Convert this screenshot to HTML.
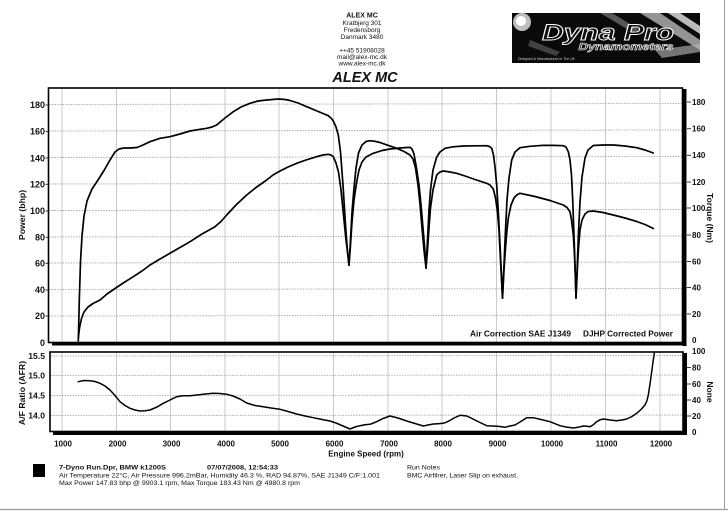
<!DOCTYPE html>
<html>
<head>
<meta charset="utf-8">
<style>
html,body{margin:0;padding:0;background:#fff;}
svg{display:block;font-family:"Liberation Sans",Arial,sans-serif;}
</style>
</head>
<body>
<svg width="728" height="513" viewBox="0 0 728 513" xmlns="http://www.w3.org/2000/svg">
<rect x="0" y="0" width="728" height="513" fill="#fff"/>
<!-- page edges -->
<line x1="724.5" y1="0" x2="724.5" y2="510" stroke="#9a9a9a" stroke-width="1"/>
<line x1="0" y1="509.5" x2="728" y2="509.5" stroke="#9a9a9a" stroke-width="1.2"/>

<!-- header address -->
<g fill="#111" text-anchor="middle">
<text x="362" y="17.5" font-size="7" font-weight="bold">ALEX MC</text>
<text x="362" y="25" font-size="6.5">Kratbjerg 301</text>
<text x="362" y="31.8" font-size="6.5">Fredensborg</text>
<text x="362" y="38.8" font-size="6.5">Danmark 3480</text>
<text x="362" y="52.3" font-size="6.5">++45 51908028</text>
<text x="362" y="59" font-size="6.5">mail@alex-mc.dk</text>
<text x="362" y="65.6" font-size="6.5">www.alex-mc.dk</text>
<text x="365" y="82" font-size="14.5" font-weight="bold" font-style="italic">ALEX MC</text>
</g>

<!-- logo -->
<g>
<rect x="512" y="13" width="188" height="50" fill="#0a0a0a"/>
<circle cx="522" cy="22" r="9" fill="#ddd" opacity="0.85"/>
<circle cx="521" cy="21" r="5" fill="#fff"/>
<polygon points="640,13 660,13 700,40 700,50" fill="#cfcfcf" opacity="0.7"/>
<polygon points="668,13 680,13 700,26 700,34" fill="#e8e8e8" opacity="0.8"/>
<polygon points="655,50 700,44 700,52 662,58" fill="#bdbdbd" opacity="0.6"/>
<polygon points="600,13 612,13 640,30 632,32" fill="#888" opacity="0.6"/>
<polygon points="530,40 560,52 556,56 528,46" fill="#777" opacity="0.5"/>
<text x="608" y="40" font-size="22" font-weight="bold" font-style="italic" text-anchor="middle" fill="#111" stroke="#fff" stroke-width="0.9" textLength="132" lengthAdjust="spacingAndGlyphs">Dyna Pro</text>
<text x="626" y="50" font-size="10.5" font-weight="bold" font-style="italic" text-anchor="middle" fill="#222" stroke="#fff" stroke-width="0.6" textLength="95" lengthAdjust="spacingAndGlyphs">Dynamometers</text>
<text x="518" y="60" font-size="3.5" fill="#ccc">Designed &amp; Manufactured in The UK</text>
</g>

<!-- upper grid -->
<g stroke="#c4c4c4" stroke-width="0.9">
<line x1="62" y1="89" x2="62" y2="342"/>
<line x1="116.5" y1="89" x2="116.5" y2="342"/>
<line x1="170.5" y1="89" x2="170.5" y2="342"/>
<line x1="225" y1="89" x2="225" y2="342"/>
<line x1="279" y1="89" x2="279" y2="342"/>
<line x1="333.5" y1="89" x2="333.5" y2="342"/>
<line x1="388" y1="89" x2="388" y2="342"/>
<line x1="442" y1="89" x2="442" y2="342"/>
<line x1="496.5" y1="89" x2="496.5" y2="342"/>
<line x1="551" y1="89" x2="551" y2="342"/>
<line x1="605.5" y1="89" x2="605.5" y2="342"/>
<line x1="660" y1="89" x2="660" y2="342"/>
</g>
<g stroke="#a8a8a8" stroke-width="0.9" stroke-dasharray="1.5 1.2">
<line x1="49" y1="104.5" x2="682" y2="103.5"/>
<line x1="49" y1="131" x2="682" y2="130"/>
<line x1="49" y1="157.5" x2="682" y2="156.5"/>
<line x1="49" y1="184" x2="682" y2="183"/>
<line x1="49" y1="210.5" x2="682" y2="209.5"/>
<line x1="49" y1="237" x2="682" y2="236"/>
<line x1="49" y1="263" x2="682" y2="262"/>
<line x1="49" y1="289.5" x2="682" y2="288.5"/>
<line x1="49" y1="316" x2="682" y2="315"/>
</g>

<!-- upper frame -->
<rect x="48.5" y="88" width="634" height="254.5" fill="none" stroke="#000" stroke-width="1.6"/>
<rect x="682.5" y="89" width="4" height="257" fill="#000"/>
<rect x="52" y="342" width="634.5" height="3.5" fill="#000"/>

<!-- upper left labels -->
<g font-size="9" font-weight="bold" fill="#111" text-anchor="end">
<text x="45" y="108.2">180</text>
<text x="45" y="134.7">160</text>
<text x="45" y="161.3">140</text>
<text x="45" y="187.5">120</text>
<text x="45" y="214.2">100</text>
<text x="45" y="240.5">80</text>
<text x="45" y="266.5">60</text>
<text x="45" y="293.2">40</text>
<text x="45" y="319.2">20</text>
<text x="45" y="345.8">0</text>
</g>
<g stroke="#222" stroke-width="0.9">
<line x1="45.5" y1="105" x2="48.5" y2="105"/><line x1="45.5" y1="131.5" x2="48.5" y2="131.5"/>
<line x1="45.5" y1="158" x2="48.5" y2="158"/><line x1="45.5" y1="184.3" x2="48.5" y2="184.3"/>
<line x1="45.5" y1="211" x2="48.5" y2="211"/><line x1="45.5" y1="237.3" x2="48.5" y2="237.3"/>
<line x1="45.5" y1="263.3" x2="48.5" y2="263.3"/><line x1="45.5" y1="290" x2="48.5" y2="290"/>
<line x1="45.5" y1="316" x2="48.5" y2="316"/>
</g>
<text transform="translate(25,215) rotate(-90)" font-size="8.7" font-weight="bold" text-anchor="middle" fill="#111">Power (bhp)</text>

<!-- upper right labels -->
<g font-size="8" font-weight="bold" fill="#111">
<text x="692" y="105">180</text>
<text x="692" y="131.6">160</text>
<text x="692" y="158.2">140</text>
<text x="692" y="184.9">120</text>
<text x="692" y="210.9">100</text>
<text x="692" y="237.9">80</text>
<text x="692" y="264.4">60</text>
<text x="692" y="290.4">40</text>
<text x="692" y="316.9">20</text>
<text x="692" y="342.9">0</text>
</g>
<g stroke="#222" stroke-width="0.9">
<line x1="687" y1="102" x2="691" y2="102"/><line x1="687" y1="128.7" x2="691" y2="128.7"/>
<line x1="687" y1="155.3" x2="691" y2="155.3"/><line x1="687" y1="182" x2="691" y2="182"/>
<line x1="687" y1="208" x2="691" y2="208"/><line x1="687" y1="235" x2="691" y2="235"/>
<line x1="687" y1="261.5" x2="691" y2="261.5"/><line x1="687" y1="287.5" x2="691" y2="287.5"/>
<line x1="687" y1="314" x2="691" y2="314"/>
</g>
<text transform="translate(707,218) rotate(90)" font-size="8.5" font-weight="bold" text-anchor="middle" fill="#111">Torque (Nm)</text>

<!-- legend in upper plot -->
<text x="470" y="336.5" font-size="8.3" font-weight="bold" fill="#111" textLength="101" lengthAdjust="spacingAndGlyphs">Air Correction SAE J1349</text>
<text x="583" y="336.5" font-size="8.3" font-weight="bold" fill="#111" textLength="90" lengthAdjust="spacingAndGlyphs">DJHP Corrected Power</text>

<!-- upper curves -->
<g fill="none" stroke="#000" stroke-width="1.7" stroke-linejoin="round" stroke-linecap="round">
<!-- seg1 upper (torque) -->
<polyline points="78.3,341 79.3,300 80.5,262 82,236 84,216 87,201 92,189 98,180 104,170.5 110,160 115,152 119,149 124,148 130,148 137,147.5 143,145 150,141.7 160,138.3 170,136.7 180,134 190,131 200,129.3 206.7,128.3 212,127 216.7,125 225,118 233.3,111.7 241,107 250,103.3 258,101 266.7,100 278.3,99 285,99.5 290,100.5 298,103 306.7,106.7 317,111 328.3,115.7 331,118 333.3,121 336,127 338.3,135 340.5,152 343,185 345.5,225 347.5,252 349,265"/>
<!-- seg1 lower (power) -->
<polyline points="78.3,338 79.5,328 81.5,318.5 84,312 88,307 93,303.5 100,300 107,294 115,288.5 124,282.5 133.3,276.7 142,271 150,265 160,259 170,253.3 180,247.5 190,241.7 202,234 215,226.7 221,221.5 226.7,215 236,205 246.7,195 256,187.5 266.7,180 273,175 280,171 288,167 296.7,163.3 306,160 316.7,156.7 323,155 328.3,154.3 331,155 333.3,156.7 336,163 338.5,172 341,190 343.5,215 346,240 348.3,258 349,265"/>
<!-- seg2 -->
<polyline points="349,265 350.5,240 352,212 354,188 356,168 358.5,153 362,145 366,141.5 370,140.7 375,141.3 380,142.5 388,145.3 396.7,148.3 404,151.5 410,155 413,159 415.5,168 418,185 420,204 422,228 424,250 426,268"/>
<polyline points="349,265 350.5,245 352,222 354,200 356.7,182 359,170 362,162 366,157 373.3,153.3 382,150.5 390,149 400,148 407,147.5 410,147.3 412,149 414,154 416.5,168 419,185 421,205 423,228 425,252 426,268"/>
<!-- seg3 -->
<polyline points="426,268 427.5,240 429,210 430.5,190 433,170 436.7,157 440,152 445,148.3 453,146.8 463.3,146 475,145.8 486.7,145.7 489.5,146.5 491.7,148.3 493.5,155 495,167 496.7,185 498.5,215 500.5,255 502.5,298"/>
<polyline points="426,268 427.5,250 429,228 430.5,208 433,190 436.7,175 440,172 443.3,171 450,172 456.7,173.3 465,176 475,179.5 486.7,183.3 490,185 493.3,189 495.5,198 497.5,212 499,230 500.5,260 502.5,298"/>
<!-- seg4 -->
<polyline points="502.5,298 504,265 505.5,230 507,200 509,178 511.7,160 515,152 520,147.7 530,146.3 543.3,145.3 553,145.4 563.3,145.7 566,147 568.3,151.7 570,160 571.5,175 572.7,200 574,235 575,265 576,298"/>
<polyline points="502.5,298 504,270 505.5,248 507,230 508.3,218 511,205 514,198 516.7,195 520,193.3 535,196.5 550,200.5 563.3,205 567,207.5 570,211.7 571.5,220 573.3,235 574.5,255 575.3,275 576,298"/>
<!-- seg5 -->
<polyline points="576,298 577.3,265 578.5,232 580,202 582,177 585,158 588,150 593.3,145.5 603,145 613.3,145 625,146 636.7,147.7 645,150 653.3,153"/>
<polyline points="576,298 577.3,270 578.5,248 580,230 582,220 585,214 588,211.5 593.3,211 603,212.5 613.3,215 625,218 636.7,221.5 645,224.5 653.3,228.5"/>
</g>

<!-- lower grid -->
<g stroke="#c4c4c4" stroke-width="0.9">
<line x1="62" y1="353" x2="62" y2="432"/>
<line x1="116.5" y1="353" x2="116.5" y2="432"/>
<line x1="170.5" y1="353" x2="170.5" y2="432"/>
<line x1="225" y1="353" x2="225" y2="432"/>
<line x1="279" y1="353" x2="279" y2="432"/>
<line x1="333.5" y1="353" x2="333.5" y2="432"/>
<line x1="388" y1="353" x2="388" y2="432"/>
<line x1="442" y1="353" x2="442" y2="432"/>
<line x1="496.5" y1="353" x2="496.5" y2="432"/>
<line x1="551" y1="353" x2="551" y2="432"/>
<line x1="605.5" y1="353" x2="605.5" y2="432"/>
<line x1="660" y1="353" x2="660" y2="432"/>
</g>
<g stroke="#a8a8a8" stroke-width="0.9" stroke-dasharray="1.5 1.2">
<line x1="51" y1="356" x2="682" y2="355.5"/>
<line x1="51" y1="375.5" x2="682" y2="375"/>
<line x1="51" y1="395.5" x2="682" y2="395"/>
<line x1="51" y1="415.5" x2="682" y2="415"/>
</g>

<!-- lower frame -->
<rect x="50" y="352" width="633" height="79.5" fill="none" stroke="#000" stroke-width="1.6"/>
<rect x="683" y="353" width="4" height="82" fill="#000"/>
<rect x="53" y="431.5" width="634" height="3.5" fill="#000"/>

<!-- lower labels -->
<g font-size="8.6" font-weight="bold" fill="#111" text-anchor="end">
<text x="45" y="359.2">15.5</text>
<text x="45" y="378.7">15.0</text>
<text x="45" y="398.7">14.5</text>
<text x="45" y="418.7">14.0</text>
</g>
<text transform="translate(25,393) rotate(-90)" font-size="8.7" font-weight="bold" text-anchor="middle" fill="#111">A/F Ratio (AFR)</text>
<g font-size="8" font-weight="bold" fill="#111">
<text x="692" y="354">100</text>
<text x="692" y="370.3">80</text>
<text x="692" y="386.8">60</text>
<text x="692" y="402.8">40</text>
<text x="692" y="418.8">20</text>
<text x="692" y="434.8">0</text>
</g>
<g stroke="#222" stroke-width="0.9">
<line x1="687" y1="367.5" x2="691" y2="367.5"/><line x1="687" y1="384" x2="691" y2="384"/>
<line x1="687" y1="400" x2="691" y2="400"/><line x1="687" y1="416" x2="691" y2="416"/>
</g>
<text transform="translate(707,392) rotate(90)" font-size="8.5" font-weight="bold" text-anchor="middle" fill="#111">None</text>

<!-- AFR curve -->
<polyline fill="none" stroke="#000" stroke-width="1.5" stroke-linejoin="round" stroke-linecap="round" points="78.3,381.7 84,380.5 90,380.7 95,381.5 100,383.3 105,386 110,390 115,395.5 120,401.7 125,405.5 130,408.3 135,410 140,411 145,410.8 150,410 157,407 163.3,403.3 170,400 176.7,396.7 183,395.8 190,395.7 197,395 203.3,394.3 208,393.8 213.3,393.3 220,393.5 226.7,394.3 233,396 240,399 246.7,403 255,405.5 263.3,406.7 271,408 280,409.3 288,411.5 296.7,414 305,416 313.3,417.7 322,419.5 330,421 336,423 343,426 350,429 355,427 360,425.7 365,424.8 370,424.3 376,422 383,418.5 390,416 398,418 406.7,421 415,423.5 423.3,426 428,425 433.3,424 438,423.7 443.3,423.3 448,421.5 454,418 460,415.3 466.7,416 472,418.5 480,422.5 486.7,425.7 493,426 500,426.5 505,427.3 510,426 515,425 520,422 526.7,417.7 533.3,417.7 541,419.5 550,421.7 555,423.7 560,425.7 566,427 573.3,428 578,427.3 583.3,426 587,426.3 590,426.7 593,425 596.7,421.7 600,419.8 603.3,419 610,420 616.7,420.7 622,420 626.7,419 632,416.5 636.7,413.3 641,409.5 645,405 647,400.5 648.3,395 650,384 651.7,371.7 653,362 654.3,353.3"/>

<!-- x labels -->
<g font-size="8" font-weight="bold" fill="#111" text-anchor="middle">
<text x="63" y="446.5">1000</text>
<text x="117.5" y="446.5">2000</text>
<text x="171.5" y="446.5">3000</text>
<text x="226" y="446.5">4000</text>
<text x="280" y="446.5">5000</text>
<text x="334.5" y="446.5">6000</text>
<text x="389" y="446.5">7000</text>
<text x="443" y="446.5">8000</text>
<text x="497.5" y="446.5">9000</text>
<text x="552" y="446.5">10000</text>
<text x="606.5" y="446.5">11000</text>
<text x="661" y="446.5">12000</text>
</g>
<text x="366" y="456.5" font-size="8" font-weight="bold" text-anchor="middle" fill="#111">Engine Speed (rpm)</text>

<!-- footer -->
<rect x="33" y="464" width="12" height="13" fill="#000"/>
<g fill="#111" font-size="6.5">
<text x="59" y="469.5" font-weight="bold" textLength="107" lengthAdjust="spacingAndGlyphs">7-Dyno Run.Dpr,   BMW k1200S</text>
<text x="207" y="469.5" font-weight="bold" textLength="71" lengthAdjust="spacingAndGlyphs">07/07/2008,  12:54:33</text>
<text x="59" y="477.3" textLength="321" lengthAdjust="spacingAndGlyphs">Air Temperature 22°C, Air Pressure 996.2mBar, Humidity 46.3 %, RAD 94.87%,    SAE J1349  C/F:1.001</text>
<text x="59" y="485.2" textLength="241" lengthAdjust="spacingAndGlyphs">Max Power 147.83 bhp @ 9903.1 rpm, Max Torque 183.43 Nm @ 4980.8 rpm</text>
<text x="407" y="469.5" textLength="33" lengthAdjust="spacingAndGlyphs">Run Notes</text>
<text x="407" y="477.3" textLength="111" lengthAdjust="spacingAndGlyphs">BMC Airfilrer, Laser Slip on exhaust.</text>
</g>
</svg>
</body>
</html>
